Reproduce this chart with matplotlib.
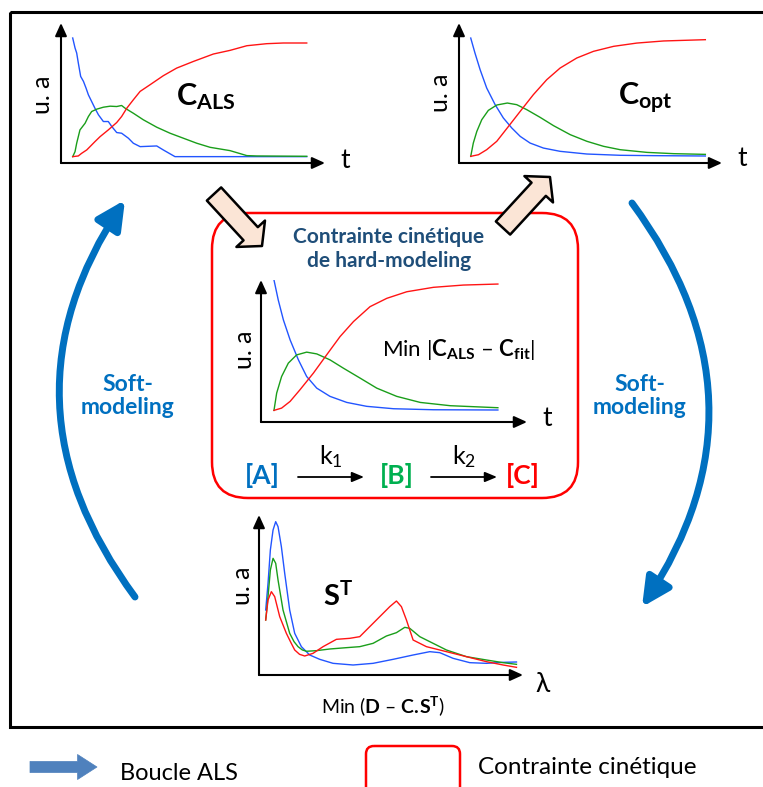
import numpy as np
import matplotlib.pyplot as plt
from matplotlib.patches import FancyArrowPatch, FancyBboxPatch, Rectangle

plt.rcParams['font.family'] = ['Lato', 'DejaVu Sans']
plt.rcParams['mathtext.fontset'] = 'custom'
plt.rcParams['mathtext.rm'] = 'Lato'
plt.rcParams['mathtext.it'] = 'Lato:italic'
plt.rcParams['mathtext.bf'] = 'Lato:bold'

BLUE = '#2255ff'
GREEN = '#1a9e1a'
RED = '#ff1414'

# profils de concentration C_ALS (sortie ALS brute)
t_als_A = [0, 0.1, 0.17, 0.24, 0.34, 0.46, 0.57, 0.67, 0.81, 0.95, 1.10, 1.31, 1.52, 1.67, 1.88, 2.09, 2.38, 2.59, 2.88, 3.59, 3.87, 4.37, 10]
c_als_A = [1.044, 0.956, 0.912, 0.824, 0.706, 0.662, 0.603, 0.544, 0.485, 0.426, 0.368, 0.309, 0.309, 0.265, 0.212, 0.206, 0.162, 0.118, 0.088, 0.094, 0.059, 0.0, 0.0]
t_als_B = [0, 0.1, 0.17, 0.31, 0.53, 0.67, 0.81, 1.03, 1.31, 1.60, 1.88, 2.09, 2.24, 2.59, 3.02, 3.59, 4.16, 4.73, 5.30, 5.87, 6.72, 7.44, 7.86, 10]
c_als_B = [0, 0.044, 0.118, 0.235, 0.294, 0.353, 0.397, 0.418, 0.435, 0.444, 0.441, 0.45, 0.426, 0.382, 0.324, 0.259, 0.206, 0.162, 0.118, 0.082, 0.053, 0.009, 0.006, 0.003]
t_als_C = [0, 0.24, 0.38, 0.60, 0.74, 0.95, 1.17, 1.52, 1.88, 2.09, 2.31, 2.59, 2.88, 3.30, 3.87, 4.44, 5.16, 6.01, 6.72, 7.44, 8.29, 9.0, 10]
c_als_C = [0, 0.006, 0.029, 0.059, 0.088, 0.132, 0.176, 0.235, 0.3, 0.353, 0.426, 0.5, 0.574, 0.632, 0.712, 0.779, 0.838, 0.903, 0.935, 0.976, 0.994, 1.0, 1.0]

# profils optimisés C_opt
t_opt_A = [0, 0.18, 0.40, 0.68, 1.04, 1.39, 1.75, 2.11, 2.53, 3.10, 3.81, 4.95, 6.37, 7.80, 10]
c_opt_A = [1.014, 0.886, 0.743, 0.586, 0.443, 0.329, 0.243, 0.171, 0.114, 0.071, 0.043, 0.02, 0.009, 0.006, 0.003]
t_opt_B = [0, 0.11, 0.26, 0.47, 0.75, 1.11, 1.56, 1.96, 2.39, 2.96, 3.53, 4.24, 4.95, 5.66, 6.37, 7.51, 8.65, 10]
c_opt_B = [0, 0.114, 0.214, 0.314, 0.394, 0.44, 0.457, 0.443, 0.4, 0.334, 0.263, 0.186, 0.129, 0.086, 0.057, 0.034, 0.023, 0.017]
t_opt_C = [0, 0.33, 0.68, 1.11, 1.61, 2.11, 2.67, 3.24, 3.81, 4.52, 5.23, 6.09, 7.08, 8.22, 10]
c_opt_C = [0, 0.014, 0.057, 0.129, 0.257, 0.386, 0.529, 0.657, 0.757, 0.843, 0.9, 0.943, 0.971, 0.989, 1.0]

# profils ajustés par le modèle cinétique A -> B -> C
t_fit_A = [0, 0.19, 0.42, 0.72, 1.09, 1.46, 1.91, 2.50, 3.25, 4.14, 5.34, 7.12, 10]
c_fit_A = [1.032, 0.874, 0.716, 0.558, 0.4, 0.268, 0.176, 0.111, 0.063, 0.032, 0.013, 0.005, 0.003]
t_fit_B = [0, 0.12, 0.34, 0.64, 1.01, 1.46, 1.91, 2.50, 3.10, 3.85, 4.59, 5.48, 6.53, 7.87, 10]
c_fit_B = [0, 0.137, 0.268, 0.374, 0.439, 0.461, 0.447, 0.4, 0.334, 0.255, 0.176, 0.111, 0.063, 0.037, 0.021]
t_fit_C = [0, 0.34, 0.72, 1.16, 1.76, 2.35, 2.95, 3.55, 4.29, 5.04, 5.93, 7.12, 8.46, 10]
c_fit_C = [0, 0.018, 0.071, 0.163, 0.295, 0.439, 0.584, 0.703, 0.821, 0.887, 0.939, 0.974, 0.992, 1.0]

# spectres purs S^T
l_A = [0, 0.93, 1.86, 2.93, 3.99, 4.92, 6.25, 7.58, 9.57, 11.57, 14.23, 17.55, 21.54, 26.86, 34.84, 42.82, 50.80, 58.78, 65.43, 69.41, 74.73, 81.38, 88.03, 94.68, 100]
s_A = [0.4875, 0.6875, 0.9375, 1.0875, 1.15, 1.1125, 0.9625, 0.7625, 0.4875, 0.3125, 0.2125, 0.15, 0.1175, 0.0875, 0.075, 0.0875, 0.1175, 0.15, 0.175, 0.1675, 0.125, 0.0925, 0.0875, 0.095, 0.0975]
l_B = [0, 0.93, 1.86, 2.93, 3.99, 4.92, 6.91, 9.57, 11.3, 12.90, 14.6, 16.22, 20.21, 25.53, 32.18, 37.50, 42.82, 48.14, 52.13, 55.45, 57.45, 61.44, 66.76, 72.07, 80.05, 88.03, 94.68, 100]
s_B = [0.4125, 0.5875, 0.7875, 0.875, 0.8375, 0.7125, 0.4875, 0.3125, 0.25, 0.2125, 0.188, 0.178, 0.1825, 0.195, 0.205, 0.2125, 0.2375, 0.2925, 0.3175, 0.3575, 0.35, 0.2875, 0.2375, 0.1875, 0.1375, 0.1125, 0.0925, 0.08]
l_C = [0, 0.93, 2.26, 3.59, 5.59, 8.24, 10.0, 11.57, 13.5, 15.56, 18.88, 22.87, 28.19, 33.51, 37.50, 41.49, 45.48, 49.47, 52.13, 54.12, 56.12, 58.78, 64.10, 72.07, 80.05, 88.03, 94.68, 100]
s_C = [0.4125, 0.5625, 0.625, 0.5875, 0.4375, 0.3125, 0.245, 0.1875, 0.155, 0.1425, 0.1625, 0.2125, 0.2675, 0.275, 0.2875, 0.3625, 0.4375, 0.5125, 0.555, 0.5125, 0.4125, 0.2625, 0.2125, 0.175, 0.1375, 0.1, 0.075, 0.0575]

W, H = 763, 787
fig = plt.figure(figsize=(W / 100, H / 100), dpi=100)

# fond en coordonnées pixel (y vers le bas)
base = fig.add_axes([0, 0, 1, 1])
base.set_xlim(0, W)
base.set_ylim(H, 0)
base.axis('off')


def panneau(x0, y0, x1, y1, xlim, ylim):
    ax = fig.add_axes([x0 / W, 1 - y1 / H, (x1 - x0) / W, (y1 - y0) / H])
    ax.set_xlim(xlim)
    ax.set_ylim(ylim)
    ax.axis('off')
    ax.patch.set_alpha(0)
    fl = dict(arrowstyle='-|>,head_length=0.55,head_width=0.25', lw=1.5,
              color='black', mutation_scale=14, shrinkA=0, shrinkB=0)
    ax.annotate('', xy=(1, 0), xytext=(0, 0), xycoords='axes fraction', arrowprops=fl)
    ax.annotate('', xy=(0, 1), xytext=(0, 0), xycoords='axes fraction', arrowprops=fl)
    return ax


# cadre général
base.add_patch(Rectangle((10, 12), 800, 715, fill=False, ec='black', lw=2.2))

# C_ALS
ax1 = panneau(61, 23, 325, 163, (-0.5, 10.78), (-0.056, 1.176))
ax1.plot(t_als_A, c_als_A, color=BLUE, lw=1)
ax1.plot(t_als_B, c_als_B, color=GREEN, lw=1)
ax1.plot(t_als_C, c_als_C, color=RED, lw=1)
base.text(42, 95, 'u. a', rotation=90, fontsize=18, ha='center', va='center')
base.text(345, 160, 't', fontsize=19, ha='center', va='center')
base.text(206, 97, r'$\mathbf{C}_{\mathbf{ALS}}$', fontsize=22, ha='center', va='center')

# C_opt
ax2 = panneau(459, 23, 722, 163, (-0.5, 10.71), (-0.057, 1.143))
ax2.plot(t_opt_A, c_opt_A, color=BLUE, lw=1)
ax2.plot(t_opt_B, c_opt_B, color=GREEN, lw=1)
ax2.plot(t_opt_C, c_opt_C, color=RED, lw=1)
base.text(440, 93, 'u. a', rotation=90, fontsize=18, ha='center', va='center')
base.text(742, 159, 't', fontsize=19, ha='center', va='center')
base.text(645, 98, r'$\mathbf{C}_{\mathbf{opt}}$', fontsize=22, ha='center', va='center')

# contrainte cinétique (boîte rouge)
base.add_patch(FancyBboxPatch((212, 213), 366, 285, boxstyle='round,pad=0,rounding_size=36',
                              fill=False, ec='#ff0000', lw=1.8))
base.text(389, 249, 'Contrainte cinétique\nde hard-modeling', fontsize=15, fontweight='bold',
          color='#1f4e79', ha='center', va='center', linespacing=1.2)
ax3 = panneau(261, 280, 527, 422, (-0.58, 11.3), (-0.092, 1.032))
ax3.plot(t_fit_A, c_fit_A, color=BLUE, lw=1)
ax3.plot(t_fit_B, c_fit_B, color=GREEN, lw=1)
ax3.plot(t_fit_C, c_fit_C, color=RED, lw=1)
base.text(244, 350, 'u. a', rotation=90, fontsize=18, ha='center', va='center')
base.text(547, 419, 't', fontsize=19, ha='center', va='center')
base.text(459, 349, r'Min |$\mathbf{C}_{\mathbf{ALS}}$ – $\mathbf{C}_{\mathbf{fit}}$|',
          fontsize=16, ha='center', va='center')

# schéma réactionnel
base.text(262, 475, '[A]', fontsize=19, fontweight='bold', color='#0070c0', ha='center', va='center')
base.text(397, 475, '[B]', fontsize=19, fontweight='bold', color='#00b050', ha='center', va='center')
base.text(523, 475, '[C]', fontsize=19, fontweight='bold', color='#ff0000', ha='center', va='center')
for xa, xb, k in [(298, 364, r'k$_1$'), (431, 497, r'k$_2$')]:
    base.annotate('', xy=(xb, 477), xytext=(xa, 477),
                  arrowprops=dict(arrowstyle='-|>,head_length=0.6,head_width=0.25', lw=1.3,
                                  color='black', mutation_scale=12, shrinkA=0, shrinkB=0))
    base.text((xa + xb) / 2, 457, k, fontsize=18, ha='center', va='center')

# spectres S^T
ax4 = panneau(259, 515, 523, 675, (-2.67, 102.6), (0, 1.2))
ax4.plot(l_A, s_A, color=BLUE, lw=1)
ax4.plot(l_B, s_B, color=GREEN, lw=1)
ax4.plot(l_C, s_C, color=RED, lw=1)
base.text(243, 586, 'u. a', rotation=90, fontsize=18, ha='center', va='center')
base.text(543, 684, 'λ', fontsize=19, ha='center', va='center')
base.text(338, 596, r'$\mathbf{S}^{\mathbf{T}}$', fontsize=21, ha='center', va='center')
base.text(383, 706, r'Min ($\mathbf{D}$ – $\mathbf{C.}\!\mathbf{S}^{\mathbf{T}}$)', fontsize=14,
          ha='center', va='center')

# flèches larges entre étapes
for pa, pb in [((214, 194), (262, 246)), ((503, 228), (550, 177))]:
    base.add_patch(FancyArrowPatch(pa, pb, arrowstyle='simple,head_length=12,head_width=28,tail_width=14',
                                   mutation_scale=1, fc='#fbe5d6', ec='black', lw=1.8,
                                   shrinkA=0, shrinkB=0, zorder=5))

# boucles soft-modeling
for pa, pb in [((135, 597), (125, 200)), ((632, 203), (642, 607))]:
    base.add_patch(FancyArrowPatch(pa, pb, connectionstyle='arc3,rad=-0.35',
                                   arrowstyle='-|>,head_length=17,head_width=8.5',
                                   mutation_scale=1, color='#0070c0', lw=5,
                                   shrinkA=0, shrinkB=0))
base.text(128, 396, 'Soft-\nmodeling', fontsize=16.5, fontweight='bold', color='#0070c0',
          ha='center', va='center', linespacing=1.15)
base.text(640, 396, 'Soft-\nmodeling', fontsize=16.5, fontweight='bold', color='#0070c0',
          ha='center', va='center', linespacing=1.15)

# légende
base.add_patch(FancyArrowPatch((30, 767), (97, 767), arrowstyle='simple,head_length=14,head_width=18,tail_width=8',
                               mutation_scale=1, fc='#4f81bd', ec='#4f81bd', lw=0.5,
                               shrinkA=0, shrinkB=0))
base.text(120, 773, 'Boucle ALS', fontsize=17, ha='left', va='center')
base.add_patch(FancyBboxPatch((366, 746), 94, 60, boxstyle='round,pad=0,rounding_size=8',
                              fill=False, ec='#ff0000', lw=1.8))
base.text(478, 768, 'Contrainte cinétique', fontsize=17.5, ha='left', va='center')

fig.savefig('out.png', dpi=100)
